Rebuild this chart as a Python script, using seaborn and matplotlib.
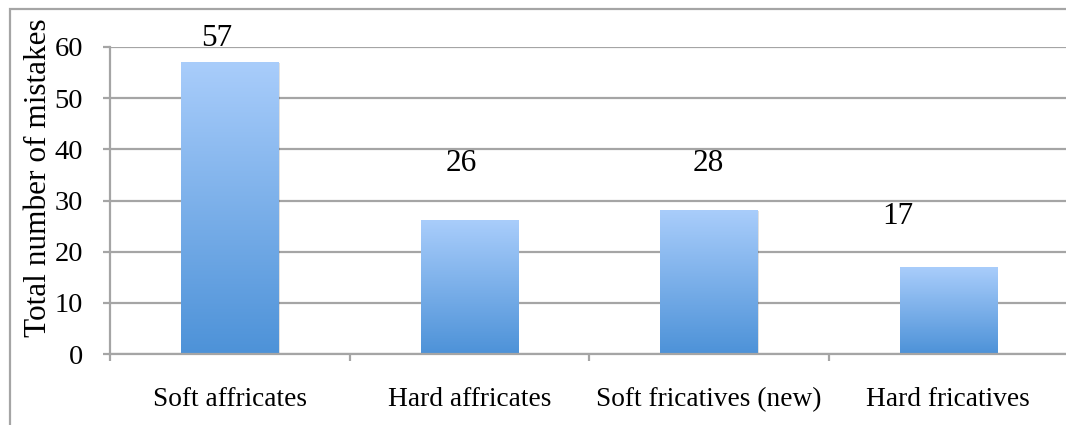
import numpy as np
import pandas as pd
import matplotlib
matplotlib.use("Agg")
import matplotlib.pyplot as plt
import seaborn as sns
from matplotlib.patches import Rectangle
from matplotlib.colors import LinearSegmentedColormap

categories = ["Soft affricates", "Hard affricates", "Soft fricatives (new)", "Hard fricatives"]
mistakes = [57, 26, 28, 17]
value_labels = ["57", "26", "28", "17"]

# label placement (as drawn in the original: data-label positions)
label_y = [61.7, 37.3, 37.3, 26.8]
label_dx = [-0.054, -0.033, -0.004, -0.213]

sns.set_theme(style="white")
plt.rcParams["font.family"] = ["Liberation Serif", "DejaVu Serif"]

df = pd.DataFrame({"category": categories, "mistakes": mistakes})

fig = plt.figure(figsize=(10.66, 4.25), dpi=100)
ax = fig.add_axes([110 / 1066, 1 - 354 / 425, 1 - 110 / 1066 + 0.002, (354 - 47) / 425])

sns.barplot(data=df, x="category", y="mistakes", ax=ax, width=0.405,
            color="#7fb0ea", saturation=1, edgecolor="none")

ax.set_xlim(-0.5, 3.5)
ax.set_ylim(0, 60)

cmap = LinearSegmentedColormap.from_list("g", ["#4d92d8", "#a9cdfb"])
grad = np.linspace(0, 1, 256).reshape(-1, 1)
for p in ax.patches:
    x0, y0 = p.get_x(), p.get_y()
    w, h = p.get_width(), p.get_height()
    # soft shadow
    sh = Rectangle((x0 + 0.006, y0), w, h - 0.1, facecolor="#000000", alpha=0.12,
                   edgecolor="none", zorder=1.5)
    ax.add_patch(sh)
    im = ax.imshow(grad, extent=[x0, x0 + w, y0, y0 + h], origin="lower", cmap=cmap,
                   aspect="auto", zorder=2, interpolation="bicubic")
    p.set_facecolor("none")
ax.set_xlim(-0.5, 3.5)
ax.set_ylim(0, 60)

grid_c = "#a5a5a5"
ax.set_yticks([0, 10, 20, 30, 40, 50, 60])
ax.yaxis.grid(True, color=grid_c, linewidth=1.6, zorder=0)
ax.set_axisbelow(True)
for s in ["top", "right"]:
    ax.spines[s].set_visible(False)
for s in ["left", "bottom"]:
    ax.spines[s].set_color(grid_c)
    ax.spines[s].set_linewidth(1.6)

ax.tick_params(axis="y", which="major", left=True, length=5, width=1.6, color=grid_c,
               pad=14.5, labelsize=20.5, labelcolor="black")
ax.set_xticks(range(len(categories)))
ax.set_xticklabels(categories)
ax.set_xticks([-0.5, 0.5, 1.5, 2.5, 3.5], minor=True)
ax.tick_params(axis="x", which="major", bottom=False, length=0, pad=24, labelsize=19.7,
               labelcolor="black")
ax.tick_params(axis="x", which="minor", bottom=True, length=5, width=1.6, color=grid_c)

ax.set_xlabel("")
ax.set_ylabel("Total number of mistakes", fontsize=22.5, color="black")
ax.yaxis.set_label_coords(-0.0595, 0.575)

for i, (lab, ly, dx) in enumerate(zip(value_labels, label_y, label_dx)):
    ax.text(i + dx, ly, lab, ha="center", va="center", fontsize=22.5, color="black",
            zorder=5, clip_on=False)

# outer chart border
fig.patches.append(Rectangle((10 / 1066, -0.05), 1.2, 1 - 9 / 425 + 0.05,
                             transform=fig.transFigure, fill=False,
                             edgecolor=grid_c, linewidth=1.6, zorder=0))

fig.savefig("out.png", dpi=100)
